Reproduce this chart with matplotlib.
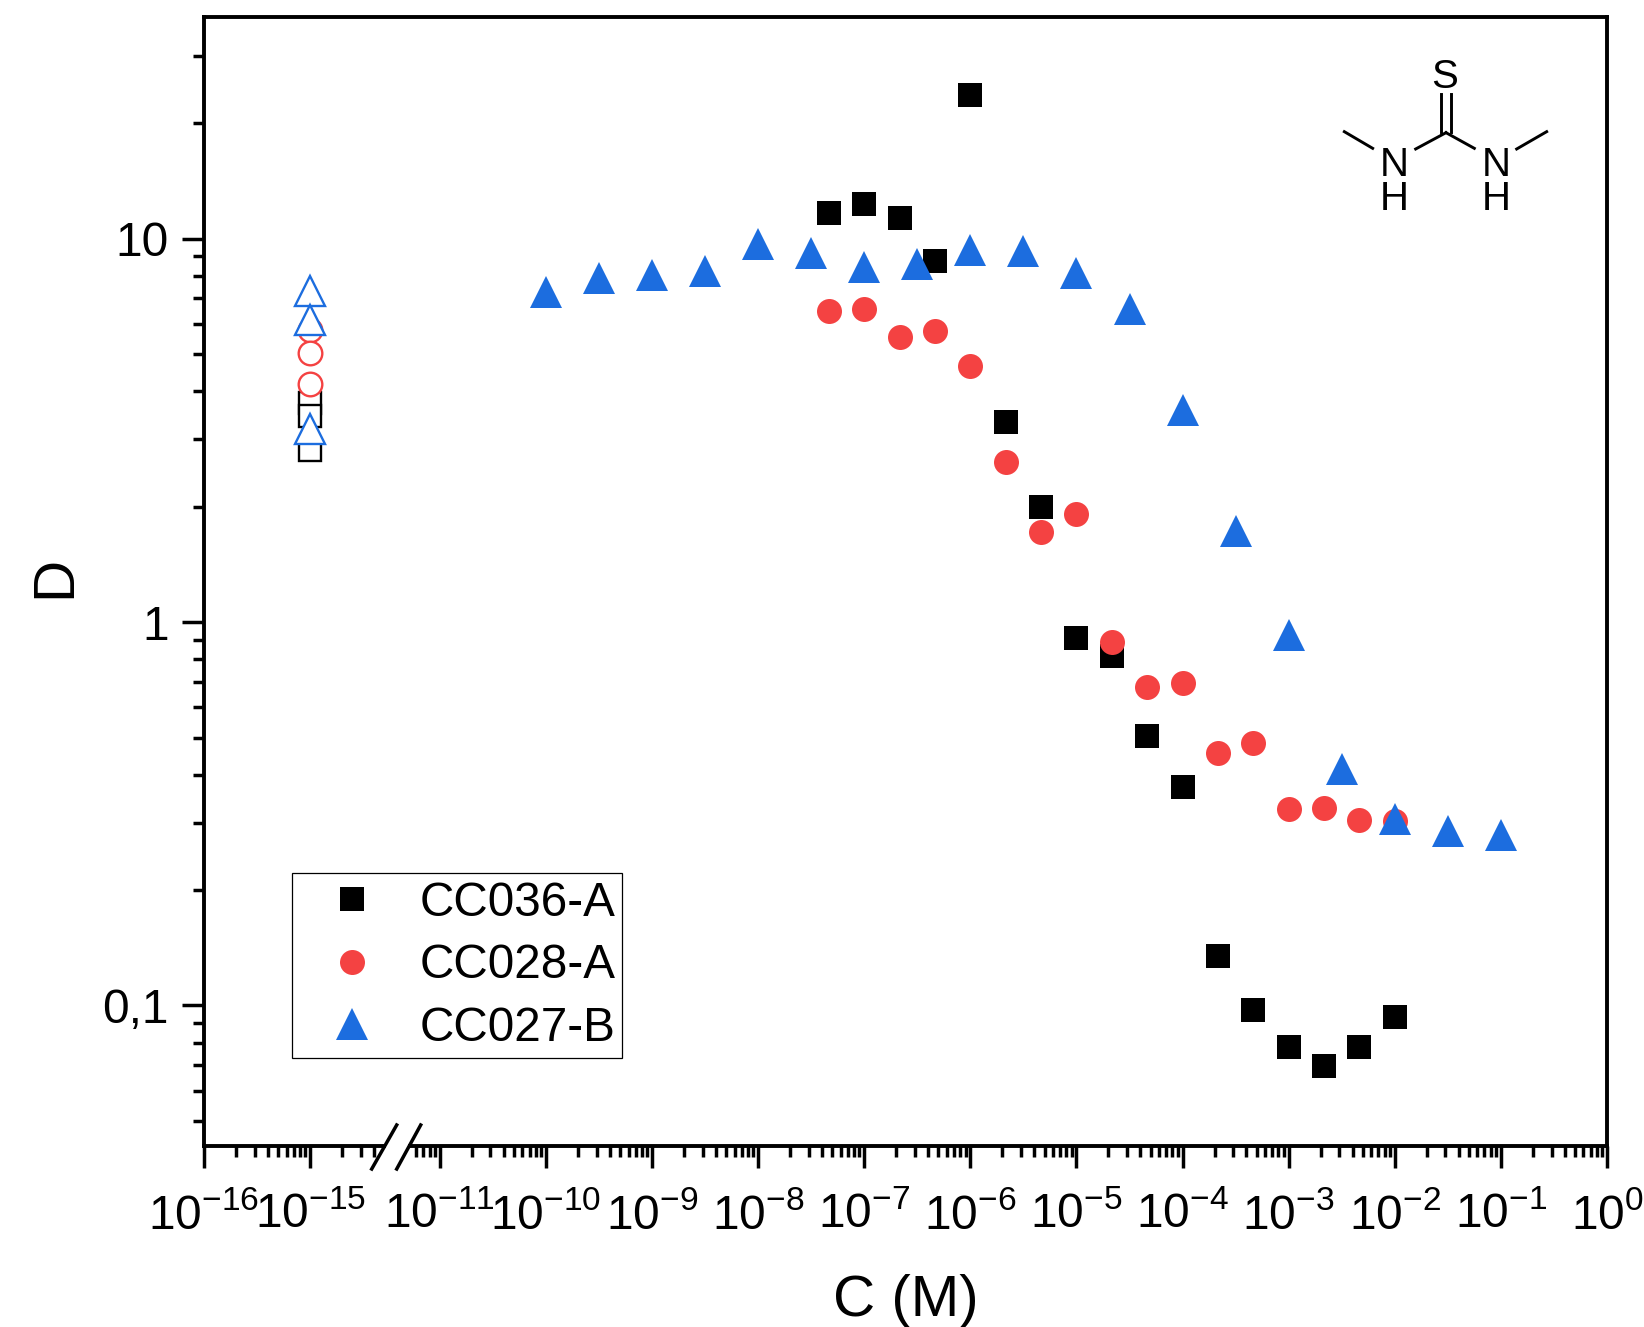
import numpy as np
import matplotlib
matplotlib.use('Agg')
import matplotlib.pyplot as plt
from matplotlib.lines import Line2D
from matplotlib.patches import Rectangle
from matplotlib.ticker import FixedLocator, FixedFormatter, NullFormatter

plt.rcParams['font.family'] = ['Liberation Sans', 'DejaVu Sans']
plt.rcParams['mathtext.fontset'] = 'custom'
plt.rcParams['mathtext.rm'] = 'Liberation Sans'
plt.rcParams['mathtext.default'] = 'regular'

W, H = 1644, 1327

# data
c_036 = [4.64e-8, 1e-7, 2.15e-7, 4.64e-7, 1e-6, 2.15e-6, 4.64e-6, 1e-5, 2.15e-5, 4.64e-5,
         1e-4, 2.15e-4, 4.64e-4, 1e-3, 2.15e-3, 4.64e-3, 1e-2]
d_036 = [11.7, 12.3, 11.3, 8.76, 23.7, 3.32, 2.0, 0.91, 0.815, 0.505,
         0.371, 0.135, 0.0975, 0.078, 0.0694, 0.078, 0.0933]
c_028 = c_036
d_028 = [6.47, 6.56, 5.53, 5.74, 4.67, 2.61, 1.72, 1.91, 0.885, 0.679,
         0.692, 0.456, 0.483, 0.325, 0.327, 0.305, 0.303]
c_027 = [1e-10, 3.16e-10, 1e-9, 3.16e-9, 1e-8, 3.16e-8, 1e-7, 3.16e-7, 1e-6, 3.16e-6,
         1e-5, 3.16e-5, 1e-4, 3.16e-4, 1e-3, 3.16e-3, 1e-2, 3.16e-2, 1e-1]
d_027 = [7.25, 7.92, 8.07, 8.22, 9.69, 9.16, 8.43, 8.6, 9.33, 9.27,
         8.12, 6.56, 3.58, 1.73, 0.925, 0.413, 0.307, 0.286, 0.279]

# open markers at the reference position
c_ref = [1e-15, 1e-15, 1e-15]
d_ref_036 = [3.74, 3.44, 2.82]
d_ref_028 = [5.77, 5.05, 4.17]
d_ref_027 = [7.33, 6.15, 3.19]

x_exponents = [-16, -15, -11, -10, -9, -8, -7, -6, -5, -4, -3, -2, -1, 0]
y_ticks = [0.1, 1, 10]
y_labels = ['0,1', '1', '10']

BLACK = '#000000'
RED = '#F44242'
BLUE = '#1C6DDF'

# broken x axis: log scale with the stretch between the two slashes squeezed
u_in = [-20, -14.31, -11.3, 5]
u_out = [-20, -14.31, -14.077, 2.223]


def forward(x):
    return np.interp(np.log10(np.maximum(x, 1e-300)), u_in, u_out)


def inverse(v):
    return 10.0 ** np.interp(v, u_out, u_in)


def px(x, y):
    return x / W, 1 - y / H


fig = plt.figure(figsize=(W / 100, H / 100), dpi=100)
ax = fig.add_axes([204 / W, 1 - 1146 / H, (1607 - 204) / W, (1146 - 17) / H])

ax.set_xscale('function', functions=(forward, inverse))
ax.set_yscale('log')
ax.set_xlim(1e-16, 1)
ax.set_ylim(0.043, 37.9)

# filled series
ax.plot(c_036, d_036, ls='none', marker='s', ms=17.5, color=BLACK, mew=0, label='CC036-A', zorder=3)
ax.plot(c_028, d_028, ls='none', marker='o', ms=18, color=RED, mew=0, label='CC028-A', zorder=4)
ax.plot(c_027, d_027, ls='none', marker='^', ms=23, color=BLUE, mew=0, label='CC027-B', zorder=5)

# open series
ax.plot(c_ref, d_ref_036, ls='none', marker='s', ms=16.5, mfc='white', mec=BLACK, mew=1.7, zorder=3)
ax.plot(c_ref, d_ref_028, ls='none', marker='o', ms=17, mfc='white', mec=RED, mew=1.7, zorder=4)
ax.plot(c_ref, d_ref_027, ls='none', marker='^', ms=21, mfc='white', mec=BLUE, mew=1.7, zorder=5)

# ticks
major_x = [10.0 ** e for e in x_exponents]
minor_x = []
for e in range(-16, 0):
    for m in range(2, 10):
        u = e + np.log10(m)
        if u < -14.36 or u > -11.27:
            minor_x.append(m * 10.0 ** e)

ax.xaxis.set_major_locator(FixedLocator(major_x))
ax.xaxis.set_major_formatter(FixedFormatter(['$10^{%d}$' % e for e in x_exponents]))
ax.xaxis.set_minor_locator(FixedLocator(minor_x))
ax.xaxis.set_minor_formatter(NullFormatter())

ax.yaxis.set_major_locator(FixedLocator(y_ticks))
ax.yaxis.set_major_formatter(FixedFormatter(y_labels))
minor_y = [m * 10.0 ** e for e in range(-2, 2) for m in range(2, 10)]
minor_y = [v for v in minor_y if 0.043 < v < 37.9]
ax.yaxis.set_minor_locator(FixedLocator(minor_y))
ax.yaxis.set_minor_formatter(NullFormatter())

ax.tick_params(axis='both', which='major', direction='out', length=15.5, width=2.5, labelsize=34.5)
ax.tick_params(axis='both', which='minor', direction='out', length=8, width=2.5)
ax.tick_params(axis='x', which='major', pad=18)
ax.tick_params(axis='y', which='major', pad=10)
for s in ax.spines.values():
    s.set_linewidth(2.8)

ax.set_xlabel('C (M)', fontsize=42)
ax.xaxis.set_label_coords((906 - 204) / (1607 - 204), (1146 - 1274) / (1146 - 17))
ax.set_ylabel('D', fontsize=42)
ax.yaxis.set_label_coords((82 - 204) / (1607 - 204), (1146 - 577) / (1146 - 17))

# axis break on the bottom spine
fig.add_artist(Rectangle(px(386, 1150), 22 / W, 8 / H, transform=fig.transFigure, fc='white', ec='none', zorder=10))
for x0, x1 in [(371.7, 396.7), (396.7, 420.7)]:
    a = px(x0, 1169)
    b = px(x1, 1125)
    fig.add_artist(Line2D([a[0], b[0]], [a[1], b[1]], color='black', lw=2.5, zorder=11))

# legend
leg = ax.legend(loc='lower left', bbox_to_anchor=((291.5 - 204) / (1607 - 204), (1146 - 1058) / (1146 - 17)),
                fontsize=34.3, frameon=True, fancybox=False, framealpha=1, edgecolor='black',
                borderpad=0.15, borderaxespad=0, handlelength=2.26, handletextpad=0.27, labelspacing=0.37,
                numpoints=1)
leg.get_frame().set_linewidth(0.9)
leg.set_zorder(6)

# molecule, reference pixels
bonds = [((73, 305), (158, 355)), ((287, 357), (378, 308)), ((378, 308), (463, 355)),
         ((590, 357), (680, 305)), ((362, 192), (362, 305)), ((392, 192), (392, 305))]
for p, q in bonds:
    a = px(1320 + p[0] / 3, 30 + p[1] / 3)
    b = px(1320 + q[0] / 3, 30 + q[1] / 3)
    fig.add_artist(Line2D([a[0], b[0]], [a[1], b[1]], color='black', lw=2.1))
atoms = [('S', 375, 129), ('N', 224, 393), ('H', 224, 495), ('N', 528, 393), ('H', 528, 495)]
for label, x, y in atoms:
    a = px(1320 + x / 3, 30 + y / 3)
    fig.text(a[0], a[1], label, fontsize=29, ha='center', va='center_baseline', color='black')

fig.savefig('out.png', dpi=100)
